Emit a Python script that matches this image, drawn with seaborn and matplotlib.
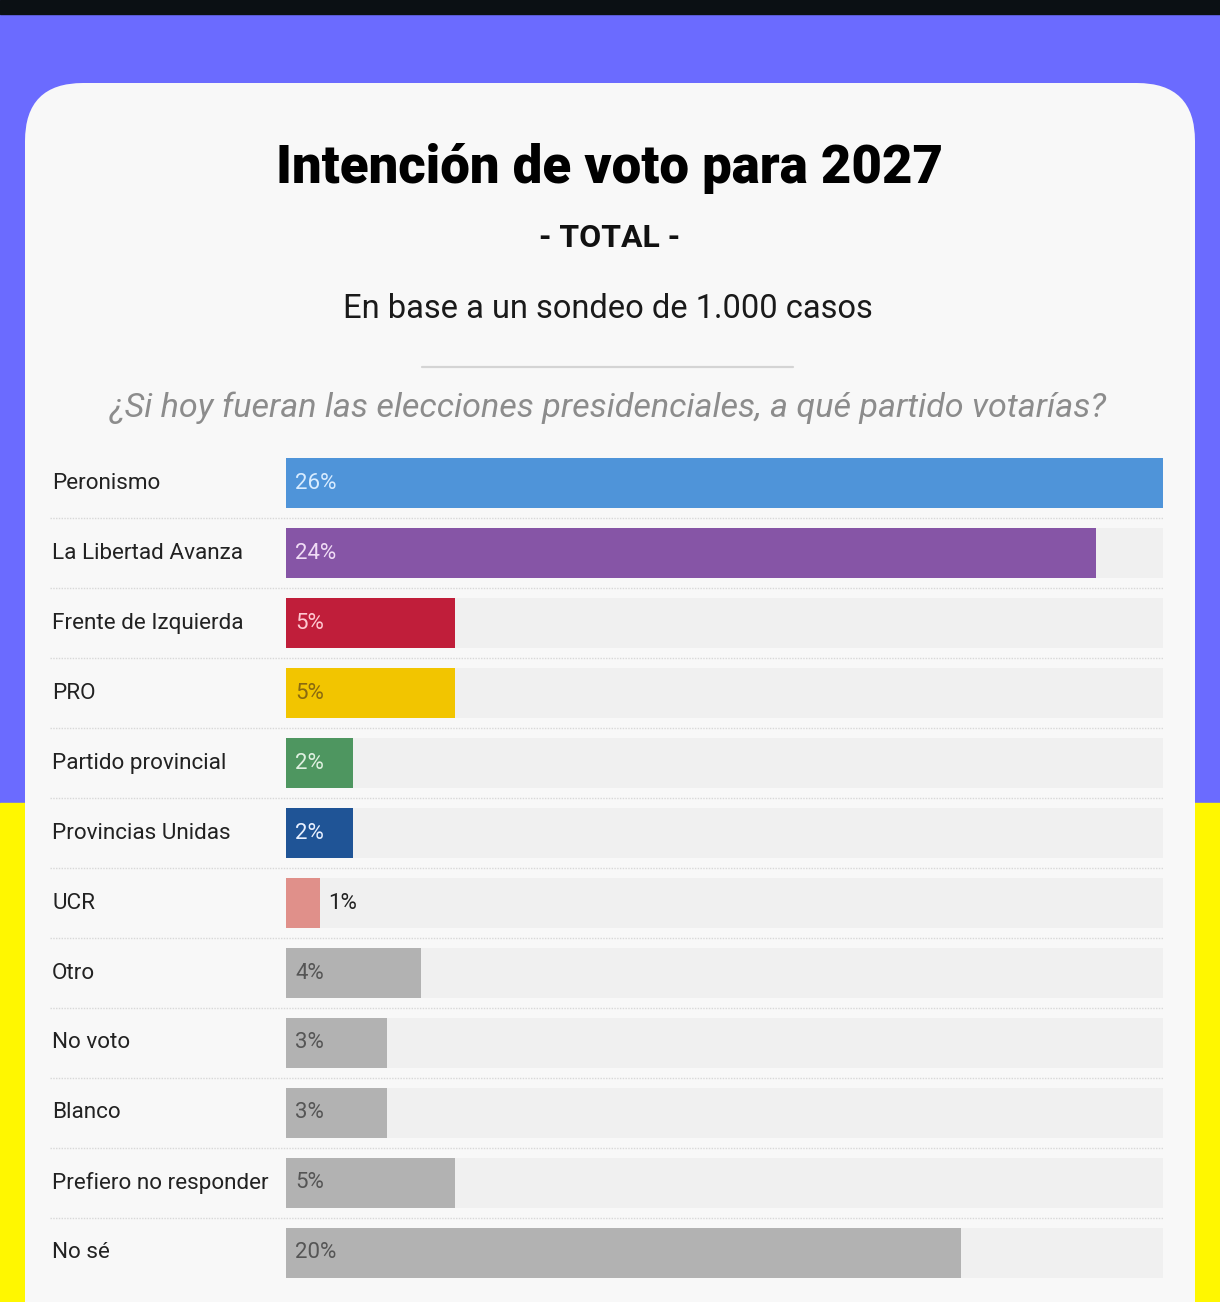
import matplotlib
matplotlib.use("Agg")
import matplotlib.pyplot as plt
from matplotlib.patches import Rectangle, FancyBboxPatch
from matplotlib.lines import Line2D
from matplotlib.transforms import IdentityTransform, blended_transform_factory
import seaborn as sns
import pandas as pd

# data
partidos = ["Peronismo", "La Libertad Avanza", "Frente de Izquierda", "PRO",
            "Partido provincial", "Provincias Unidas", "UCR", "Otro", "No voto",
            "Blanco", "Prefiero no responder", "No sé"]
valores = [26, 24, 5, 5, 2, 2, 1, 4, 3, 3, 5, 20]
colores = ["#4f94d9", "#8655a6", "#c01e3a", "#f2c500", "#4e9660", "#1f5496",
           "#e0908a", "#b2b2b2", "#b2b2b2", "#b2b2b2", "#b2b2b2", "#b2b2b2"]
color_texto = ["#d8ecff", "#f0dcf5", "#ffc8d0", "#8a6a10", "#dff0e0", "#e8f0ff",
               "#222222", "#555555", "#555555", "#555555", "#555555", "#555555"]

W, H = 1220, 1302
sns.set_theme(style="white")
plt.rcParams['font.family'] = ['Roboto', 'DejaVu Sans']

fig = plt.figure(figsize=(W / 100, H / 100), dpi=100)
fig.patch.set_facecolor("#6b6bff")

def fy(y):
    return H - y

# background bands (pixel coords)
px = IdentityTransform()
fig.add_artist(Rectangle((0, 0), W, fy(803), color="#fff700", transform=px, zorder=0))
fig.add_artist(Rectangle((0, fy(14)), W, 14, color="#0b1014", transform=px, zorder=0))
fig.add_artist(FancyBboxPatch((25, -100), 1170, fy(83) + 100,
                              boxstyle="round,pad=0,rounding_size=58",
                              facecolor="#f8f8f8", edgecolor="none",
                              transform=px, zorder=1))

# headings
fig.text(610 / W, 1 - 168 / H, "Intención de voto para 2027", ha="center", va="center",
         fontsize=38, fontweight="black", color="#000000", zorder=3)
fig.text(610 / W, 1 - 238 / H, "- TOTAL -", ha="center", va="center",
         fontsize=23, fontweight="bold", color="#111111", zorder=3)
fig.text(608 / W, 1 - 309 / H, "En base a un sondeo de 1.000 casos", ha="center", va="center",
         fontsize=23.5, color="#1a1a1a", zorder=3)
fig.add_artist(Line2D([422, 793], [fy(367), fy(367)], transform=px,
                      color="#d4d4d4", lw=1.6, zorder=3))
fig.text(608 / W, 1 - 408 / H, "¿Si hoy fueran las elecciones presidenciales, a qué partido votarías?",
         ha="center", va="center", fontsize=24.6, style="italic", color="#8c8c8c", zorder=3)

# bar area
x0, x1 = 286, 1163
y_top, y_bot = 448, 1288
ax = fig.add_axes([x0 / W, 1 - y_bot / H, (x1 - x0) / W, (y_bot - y_top) / H])
ax.set_zorder(2)
ax.patch.set_alpha(0)

df = pd.DataFrame({"partido": partidos, "valor": valores, "fondo": [26] * len(partidos)})
sns.barplot(data=df, x="fondo", y="partido", orient="h", color="#f0f0f0",
            width=50 / 70, ax=ax, saturation=1, linewidth=0)
sns.barplot(data=df, x="valor", y="partido", hue="partido", orient="h",
            palette=colores, width=50 / 70, ax=ax, legend=False, saturation=1, linewidth=0)

ax.set_xlim(0, 26)
ax.set_ylim(len(partidos) - 0.5, -0.5)
ax.set_xlabel("")
ax.set_ylabel("")
ax.set_xticks([])
ax.set_yticks([])
for s in ax.spines.values():
    s.set_visible(False)

trans = blended_transform_factory(ax.transAxes, ax.transData)
lab_x = (52 - x0) / (x1 - x0)
sep_x = (50 - x0) / (x1 - x0)
for i, (p, v) in enumerate(zip(partidos, valores)):
    ax.text(lab_x, i, p, transform=trans, ha="left", va="center",
            fontsize=16.2, color="#222222", clip_on=False)
    if v <= 1:
        ax.text(v + 0.25, i, f"{v}%", ha="left", va="center", fontsize=16, color=color_texto[i])
    else:
        ax.text(0.27, i, f"{v}%", ha="left", va="center", fontsize=16, color=color_texto[i])
    if i < len(partidos) - 1:
        ax.plot([sep_x, 1], [i + 0.5, i + 0.5], transform=trans, color="#d8d8d8",
                lw=1, ls=(0, (1, 1)), clip_on=False)

fig.savefig("out.png", dpi=100, facecolor=fig.get_facecolor())
